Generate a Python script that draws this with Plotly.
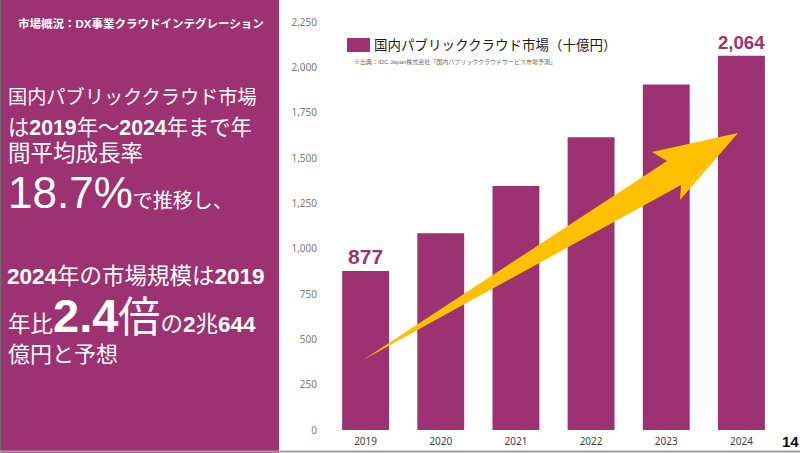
import plotly.graph_objects as go

# ---- data ----
years = ["2019", "2020", "2021", "2022", "2023", "2024"]
market = [877, 1085, 1345, 1615, 1905, 2064]
labelled_years = ["2019", "2024"]
y_ticks = [0, 250, 500, 750, 1000, 1250, 1500, 1750, 2000, 2250]

series_name = "国内パブリッククラウド市場（十億円）"
source_note = "※出典：IDC Japan株式会社「国内パブリッククラウドサービス市場予測」"
header = "市場概況：DX事業クラウドインテグレーション"

PURPLE = "#9C3272"
GOLD = "#FFC000"
JP = "Liberation Sans, Noto Sans CJK JP"

W, H = 800, 453
L, R, T, B = 328, 21, 22, 23
PW, PH = W - L - R, H - T - B


def xp(px):
    return (px - L) / PW


def yp(py):
    return (H - B - py) / PH


bar_text = [f"{v:,}" if y in labelled_years else "" for y, v in zip(years, market)]

fig = go.Figure()
fig.add_trace(go.Bar(
    x=years, y=market, name=series_name,
    marker=dict(color=PURPLE, line=dict(width=0)),
    text=bar_text, textposition="outside", cliponaxis=False,
    textfont=dict(family=JP, size=21, color=PURPLE, weight="bold"),
    showlegend=False, hoverinfo="skip",
))

shapes = []
# left panel
shapes.append(dict(type="rect", xref="paper", yref="paper",
                   x0=xp(0), x1=xp(279), y0=yp(H), y1=yp(0),
                   fillcolor=PURPLE, line=dict(width=0), layer="below"))
shapes.append(dict(type="line", xref="paper", yref="paper",
                   x0=xp(0.5), x1=xp(0.5), y0=yp(H), y1=yp(0),
                   line=dict(color="#6e6e6e", width=1)))
# bottom rule
shapes.append(dict(type="line", xref="paper", yref="paper",
                   x0=xp(0), x1=xp(W), y0=yp(451.5), y1=yp(451.5),
                   line=dict(color="#a0a0a0", width=2)))
# legend swatch
shapes.append(dict(type="rect", xref="paper", yref="paper",
                   x0=xp(347), x1=xp(370), y0=yp(52), y1=yp(38),
                   fillcolor=PURPLE, line=dict(width=0)))
# trend arrow
pts = [(363, 360), (667, 161), (652, 152), (738, 133), (680, 200), (681, 185)]
path = "M " + " L ".join(f"{xp(a):.5f},{yp(b):.5f}" for a, b in pts) + " Z"
shapes.append(dict(type="path", xref="paper", yref="paper", path=path,
                   fillcolor=GOLD, line=dict(width=0), layer="above"))

ann = []


def text(px, py, s, size, color="white", anchor="left", family=JP):
    ann.append(dict(xref="paper", yref="paper", x=xp(px), y=yp(py),
                    xanchor=anchor, yanchor="middle", showarrow=False,
                    text=s, font=dict(family=family, size=size, color=color),
                    borderpad=0))


text(17, 24, f"<b>{header}</b>", 11.5)
text(7, 97, "国内パブリッククラウド市場", 19.2)
text(7, 128, "は<b>2019</b>年～<b>2024</b>年まで年", 21.3)
text(7, 154, "間平均成長率", 22.5)
text(7, 193, '<span style="font-size:44px">18.7%</span>で推移し、', 20)
text(6, 276, "<b>2024</b>年の市場規模は<b>2019</b>", 22.5)
text(7, 315, '年比<span style="font-size:47px"><b>2.4</b></span>'
             '<span style="font-size:42px">倍</span>の<b>2</b>兆<b>644</b>', 22.5)
text(7, 354, "億円と予想", 22)

text(373, 45, series_name, 13.5, color="#1a1a1a")
text(353, 62, source_note, 6, color="#6b6b6b")
text(800, 442, "<b>14</b>", 15, color="#111111", anchor="right",
     family="Liberation Sans")

fig.update_layout(
    width=W, height=H,
    margin=dict(l=L, r=R, t=T, b=B, autoexpand=False),
    paper_bgcolor="white", plot_bgcolor="white",
    bargap=0.376,
    shapes=shapes, annotations=ann,
    xaxis=dict(type="category", showgrid=False, showline=False, ticks="",
               tickfont=dict(family="Noto Sans", size=10, color="#404040"),
               ticklabelstandoff=4),
    yaxis=dict(range=[0, 2250], tickvals=y_ticks, tickformat=",",
               showgrid=False, zeroline=False, showline=False, ticks="",
               tickfont=dict(family="Noto Sans", size=10, color="#7a7a7a"),
               ticklabelstandoff=10),
)

fig.write_html(
    "out.html",
    config={"displayModeBar": False},
    post_script="document.body.style.margin='0';"
                "document.body.style.overflow='hidden';",
)
